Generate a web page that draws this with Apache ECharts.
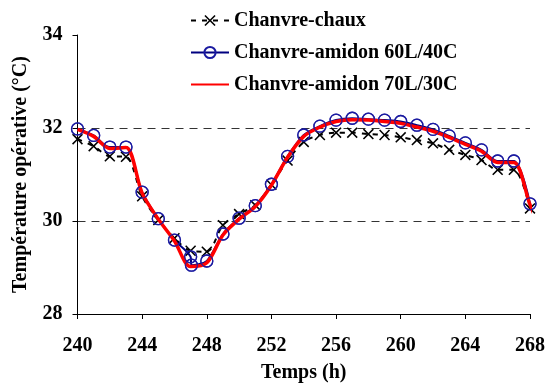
<!DOCTYPE html>
<html><head><meta charset="utf-8">
<script src="https://cdn.jsdelivr.net/npm/echarts@6/dist/echarts.min.js"></script>
<style>html,body{margin:0;padding:0;background:#fff}#c{width:548px;height:383px}</style>
</head><body><div id="c"></div>
<script>
const hours = [240,241,242,243,244,245,246,247,248,249,250,251,252,253,254,255,256,257,258,259,260,261,262,263,264,265,266,267,268];
const chaux = [31.76,31.61,31.39,31.38,30.53,30.02,29.63,29.36,29.34,29.91,30.15,30.34,30.78,31.30,31.70,31.85,31.90,31.90,31.87,31.85,31.80,31.74,31.67,31.53,31.42,31.31,31.10,31.10,30.27];
const hours60 = [240,241,242,243,244,245,246,247,247.05,248,249,250,251,252,253,254,255,256,257,258,259,260,261,262,263,264,265,266,267,268];
const amidon60 = [31.98,31.84,31.59,31.59,30.62,30.05,29.59,29.23,29.05,29.14,29.72,30.06,30.33,30.79,31.39,31.85,32.04,32.17,32.21,32.19,32.17,32.14,32.06,31.97,31.83,31.68,31.53,31.29,31.29,30.37];
const hours70 = [240,241,242,243,244,245,246,247,248,249,250,251,252,253,254,255,256,257,258,259,260,261,262,263,264,265,266,267,268,268.5];
const amidon70 = [31.97,31.82,31.56,31.58,30.60,30.04,29.57,29.02,29.10,29.70,30.04,30.31,30.77,31.37,31.82,32.02,32.14,32.18,32.17,32.14,32.10,32.02,31.93,31.80,31.65,31.50,31.26,31.26,30.35,29.95];
const xTicks = [240,244,248,252,256,260,264,268];
const yTicks = [28,30,32,34];
const names = ['Chanvre-chaux','Chanvre-amidon 60L/40C','Chanvre-amidon 70L/30C'];

const pair = (xs, ys) => xs.map((x,i)=>[x, ys[i]]);
const FONT = '"Liberation Serif","Times New Roman",serif';
const XSYM = 'path://M0,1 L1,0 L5,4 L9,0 L10,1 L6,5 L10,9 L9,10 L5,6 L1,10 L0,9 L4,5 Z';

const chart = echarts.init(document.getElementById('c'), null, {renderer:'canvas'});
chart.setOption({
  animation:false,
  backgroundColor:'#fff',
  grid:{left:77.5, right:18, top:35, bottom:69, containLabel:false, outerBoundsMode:'none'},
  legend:{
    orient:'vertical', left:185, top:5, itemWidth:38, itemHeight:14, itemGap:11,
    textStyle:{fontFamily:FONT, fontWeight:'bold', fontSize:20, color:'#000', lineHeight:21},
    data:[names[0], names[1], {name:names[2], itemStyle:{opacity:0}}]
  },
  xAxis:{
    type:'value', min:240, max:268, interval:4,
    name:'Temps (h)', nameLocation:'middle', nameGap:49,
    nameTextStyle:{fontFamily:FONT, fontWeight:'bold', fontSize:20, color:'#000'},
    axisLine:{show:true, lineStyle:{color:'#000', width:1}},
    axisTick:{show:true, inside:false, length:5, lineStyle:{color:'#000'}},
    axisLabel:{fontFamily:FONT, fontWeight:'bold', fontSize:20, color:'#000', margin:22,
      formatter:v=> xTicks.includes(v) ? String(v) : ''},
    splitLine:{show:false}
  },
  yAxis:{
    type:'value', min:28, max:34, interval:2,
    name:'Température opérative (°C)', nameLocation:'middle', nameGap:47,
    nameTextStyle:{fontFamily:FONT, fontWeight:'bold', fontSize:20, color:'#000'},
    axisLine:{show:true, lineStyle:{color:'#000', width:1}},
    axisTick:{show:true, inside:false, length:5, lineStyle:{color:'#000'}},
    axisLabel:{fontFamily:FONT, fontWeight:'bold', fontSize:20, color:'#000', margin:15,
      formatter:v=> yTicks.includes(v) ? String(v) : ''},
    splitLine:{show:true, showMinLine:false, showMaxLine:false,
      lineStyle:{color:'#333', width:1, type:[8,6]}}
  },
  series:[
    {name:names[0], type:'line', data:pair(hours,chaux), smooth:0.3, z:2,
     symbol:XSYM, symbolSize:11, showAllSymbol:true,
     lineStyle:{color:'#000', width:2, type:[5,6]},
     itemStyle:{color:'#000'}},
    {name:names[1], type:'line', data:pair(hours60,amidon60), smooth:0.3, z:3,
     symbol:'circle', symbolSize:12, showAllSymbol:true,
     lineStyle:{color:'#000080', width:2},
     itemStyle:{color:'rgba(0,0,0,0)', borderColor:'#1a1aa0', borderWidth:1.3}},
    {name:names[2], type:'line', data:pair(hours70,amidon70), smooth:0.3, z:4, clip:false,
     symbol:'none', lineStyle:{color:'#ff0000', width:3.5},
     itemStyle:{color:'#ff0000'}},
    {name:'m60', type:'scatter', data:pair(hours60,amidon60), z:5, symbol:'circle', symbolSize:12,
     itemStyle:{color:'rgba(0,0,0,0)', borderColor:'#1a1aa0', borderWidth:1.3}, silent:true}
  ]
});
</script></body></html>
